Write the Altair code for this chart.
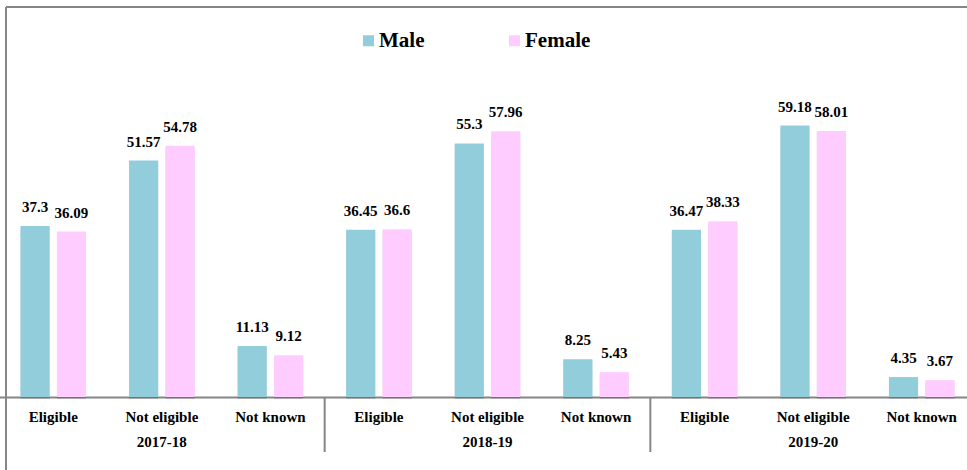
import altair as alt
import pandas as pd

# Source values: share of students by eligibility status, per year and gender
years = ["2017-18", "2018-19", "2019-20"]
statuses = ["Eligible", "Not eligible", "Not known"]
male = [37.3, 51.57, 11.13, 36.45, 55.3, 8.25, 36.47, 59.18, 4.35]
female = [36.09, 54.78, 9.12, 36.6, 57.96, 5.43, 38.33, 58.01, 3.67]
genders = ["Male", "Female"]
colors = ["#92CDDC", "#FFCCFF"]

keys = [f"{y}|{s}" for y in years for s in statuses]

rows = []
for i, k in enumerate(keys):
    rows.append({"key": k, "gender": "Male", "value": male[i]})
    rows.append({"key": k, "gender": "Female", "value": female[i]})
df = pd.DataFrame(rows)

year_df = pd.DataFrame({"key": [f"{y}|{statuses[1]}" for y in years], "year": years})
sep_df = pd.DataFrame({"key": [f"{y}|{statuses[-1]}" for y in years[:-1]]})

FONT = "'Times New Roman', 'Liberation Serif', serif"
GRAY = "#868686"

x_scale = alt.Scale(domain=keys, range=[-1, 976], paddingInner=0, paddingOuter=0)
off_scale = alt.Scale(domain=genders, paddingInner=0.2, paddingOuter=0.59)
y_scale = alt.Scale(domain=[0, 70], nice=False)

x_axis = alt.Axis(
    labelExpr="split(datum.label, '|')[1]",
    labelAngle=0,
    labelFont=FONT,
    labelFontWeight="bold",
    labelFontSize=15,
    labelColor="#000000",
    labelPadding=12,
    ticks=False,
    domainColor=GRAY,
    domainWidth=2,
    grid=False,
)
x_enc = alt.X("key:N", scale=x_scale, title=None, axis=x_axis)

base = alt.Chart(df)

shadow = base.mark_bar(color="#000000", opacity=0.13, xOffset=2, yOffset=2).encode(
    x=x_enc,
    xOffset=alt.XOffset("gender:N", scale=off_scale),
    y=alt.Y("value:Q", scale=y_scale, axis=None),
)

bars = base.mark_bar().encode(
    x=x_enc,
    xOffset=alt.XOffset("gender:N", scale=off_scale),
    y=alt.Y("value:Q", scale=y_scale, axis=None),
    color=alt.Color(
        "gender:N",
        scale=alt.Scale(domain=genders, range=colors),
        legend=alt.Legend(
            title=None,
            orient="none",
            direction="horizontal",
            legendX=358,
            legendY=-46,
            symbolType="square",
            symbolSize=121,
            symbolStrokeWidth=0,
            symbolOpacity=1,
            labelFont=FONT,
            labelFontWeight="bold",
            labelFontSize=21,
            labelColor="#000000",
            labelOffset=0,
            columnPadding=79,
            padding=0,
        ),
    ),
)

labels = base.mark_text(
    font=FONT, fontWeight="bold", fontSize=15, baseline="alphabetic", dy=-14, color="#000000"
).encode(
    x=x_enc,
    xOffset=alt.XOffset("gender:N", scale=off_scale),
    y=alt.Y("value:Q", scale=y_scale, axis=None),
    text=alt.Text("value:Q"),
)

year_labels = alt.Chart(year_df).mark_text(
    font=FONT, fontWeight="bold", fontSize=15, baseline="middle", color="#000000"
).encode(
    x=x_enc,
    y=alt.value(366),
    text="year:N",
)

separators = alt.Chart(sep_df).mark_rule(color=GRAY, strokeWidth=2).encode(
    x=alt.X("key:N", scale=x_scale, title=None, axis=x_axis, bandPosition=1),
    y=alt.value(321),
    y2=alt.value(376),
)

frame_top = alt.Chart(pd.DataFrame({"a": [0]})).mark_rule(color=GRAY, strokeWidth=2).encode(
    x=alt.value(6), x2=alt.value(967), y=alt.value(-69)
)
frame_left = alt.Chart(pd.DataFrame({"a": [0]})).mark_rule(color=GRAY, strokeWidth=2).encode(
    x=alt.value(6), y=alt.value(-69), y2=alt.value(394)
)

chart = (
    alt.layer(shadow, bars, labels, year_labels, separators, frame_top, frame_left)
    .resolve_scale(x="shared")
    .properties(
        width=967,
        height=321,
        autosize=alt.AutoSizeParams(type="none"),
        padding={"left": 0, "top": 76, "right": 0, "bottom": 73},
        background="#ffffff",
    )
    .configure_view(stroke=None)
)

chart.save("out.html", embed_options={"renderer": "svg", "actions": False})
